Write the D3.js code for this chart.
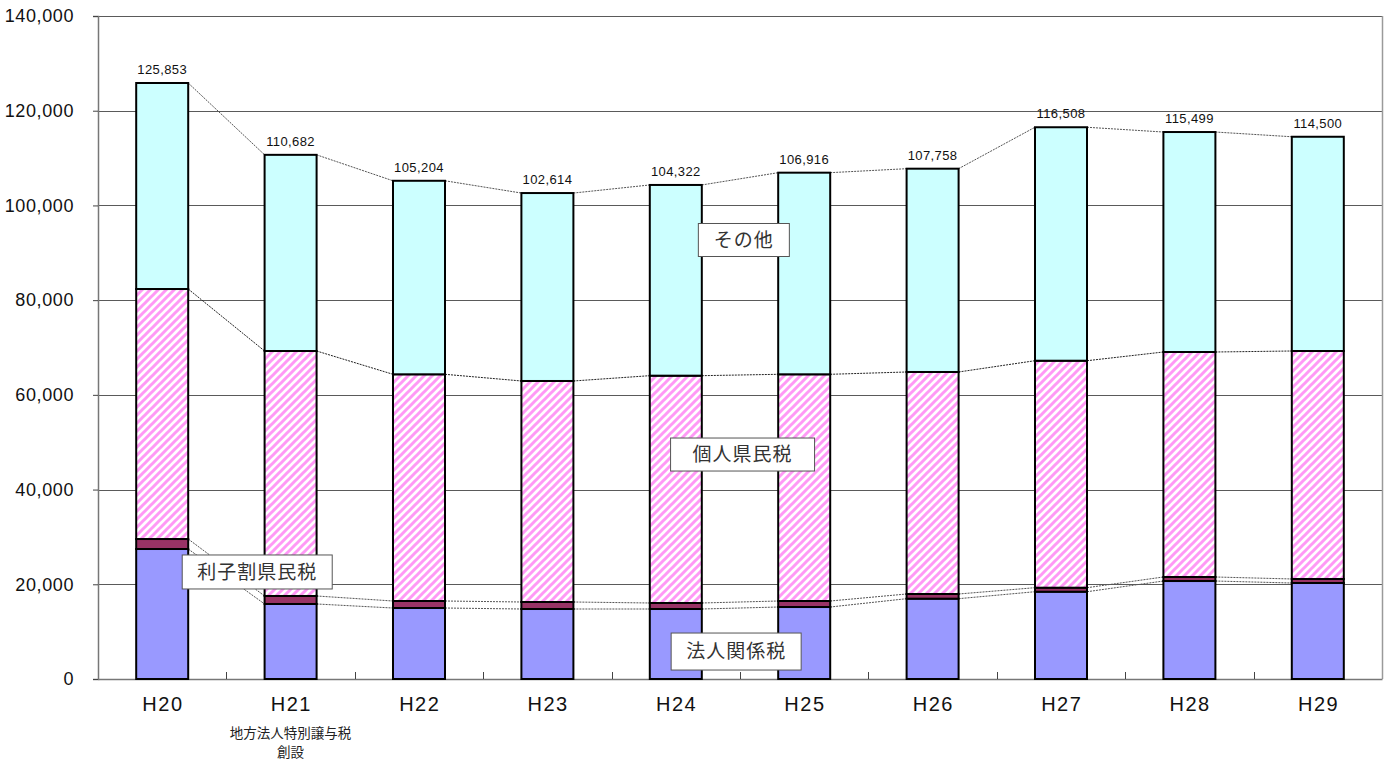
<!DOCTYPE html>
<html>
<head>
<meta charset="utf-8">
<script src="https://cdn.jsdelivr.net/npm/d3@7"></script>
<style>
  html, body { margin: 0; padding: 0; background: #fff; }
  svg { display: block; }
  text { font-family: "Liberation Sans", Arial, "Noto Sans CJK JP", sans-serif; }
  .jp { font-family: "Noto Sans CJK JP", sans-serif; }
</style>
</head>
<body>
<svg id="chart" width="1389" height="763"></svg>
<script>
// 年度
const years = ["H20", "H21", "H22", "H23", "H24", "H25", "H26", "H27", "H28", "H29"];
// 税目別の額（下から積み上げ）
const houjin   = [27450, 15840, 14990, 14780, 14780, 15200, 16960, 18430, 20690, 20270]; // 法人関係税
const rishiwari = [2110, 1690, 1480, 1480, 1270, 1270, 990, 850, 850, 850];              // 利子割県民税
const kojin    = [52790, 51730, 47870, 46670, 48000, 47870, 46880, 47930, 47510, 48140]; // 個人県民税
const sonota   = [43503, 41422, 40864, 39684, 40272, 42576, 42928, 49298, 46449, 45240]; // その他
const yTicks = [0, 20000, 40000, 60000, 80000, 100000, 120000, 140000];

const seriesKeys = ["houjin", "rishiwari", "kojin", "sonota"];
const seriesName = { houjin: "法人関係税", rishiwari: "利子割県民税", kojin: "個人県民税", sonota: "その他" };
const rows = years.map((yr, i) => ({
  year: yr, houjin: houjin[i], rishiwari: rishiwari[i], kojin: kojin[i], sonota: sonota[i]
}));

const svg = d3.select("#chart");
const plotL = 98, plotR = 1382, plotT = 16, plotB = 679;

const x = d3.scaleBand().domain(years).range([plotL, plotR]).paddingInner(0.595).paddingOuter(0.2975);
const xb = d3.scaleBand().domain(years).range([plotL, plotR]);
const y = d3.scaleLinear().domain([0, 140000]).range([plotB, plotT]);

// 斜線パターン（個人県民税）
const defs = svg.append("defs");
const pat = defs.append("pattern")
  .attr("id", "stripe").attr("patternUnits", "userSpaceOnUse")
  .attr("width", 8).attr("height", 8);
pat.append("rect").attr("width", 8).attr("height", 8).attr("fill", "#fff");
pat.append("path")
  .attr("d", "M-2,2 L2,-2 M0,8 L8,0 M6,10 L10,6")
  .attr("stroke", "#ff99f6").attr("stroke-width", 3);

const fills = { houjin: "#9999ff", rishiwari: "#993366", kojin: "url(#stripe)", sonota: "#ccffff" };

// 目盛線
svg.append("g").selectAll("line").data(yTicks.filter(t => t > 0)).join("line")
  .attr("x1", plotL).attr("x2", plotR)
  .attr("y1", d => Math.round(y(d)) + 0.5).attr("y2", d => Math.round(y(d)) + 0.5)
  .attr("stroke", "#5a5a5a").attr("stroke-width", 1);
// 右枠
svg.append("line").attr("x1", plotR + 0.5).attr("x2", plotR + 0.5).attr("y1", plotT).attr("y2", plotB)
  .attr("stroke", "#9a9a9a").attr("stroke-width", 1.5);

// Y軸
const yAxis = d3.axisLeft(y).tickValues(yTicks).tickSize(5).tickPadding(19)
  .tickFormat(d3.format(","));
const gy = svg.append("g").attr("transform", `translate(${plotL},0)`).call(yAxis);
gy.select(".domain").attr("stroke", "#777").attr("stroke-width", 1.5);
gy.selectAll(".tick line").attr("stroke", "#444");
gy.selectAll(".tick text").attr("font-size", 18).attr("letter-spacing", 0.6).attr("fill", "#111");

// X軸
const xAxis = d3.axisBottom(xb).tickSize(0).tickPadding(18);
const gx = svg.append("g").attr("transform", `translate(0,${plotB})`).call(xAxis);
gx.select(".domain").attr("stroke", "#777").attr("stroke-width", 1.5);
gx.selectAll(".tick text").attr("font-size", 20).attr("letter-spacing", 1.5).attr("dx", 0.75).attr("fill", "#111");
// 区切り目盛（内向き）
svg.append("g").selectAll("line").data(years.slice(1)).join("line")
  .attr("x1", d => Math.round(xb(d)) + 0.5).attr("x2", d => Math.round(xb(d)) + 0.5)
  .attr("y1", plotB - 7).attr("y2", plotB)
  .attr("stroke", "#444");

// 注記
const noteX = xb("H21") + xb.bandwidth() / 2;
svg.append("text").attr("class", "jp").attr("x", noteX).attr("y", plotB + 59)
  .attr("text-anchor", "middle").attr("font-size", 13.5).attr("fill", "#222").text("地方法人特別譲与税");
svg.append("text").attr("class", "jp").attr("x", noteX).attr("y", plotB + 78)
  .attr("text-anchor", "middle").attr("font-size", 13.5).attr("fill", "#222").text("創設");

// 積み上げ
const stack = d3.stack().keys(seriesKeys)(rows);

// 区分線（隣接する棒の各系列上端を結ぶ）
const seriesLines = svg.append("g");
stack.forEach(layer => {
  for (let i = 0; i < layer.length - 1; i++) {
    seriesLines.append("line")
      .attr("x1", x(years[i]) + x.bandwidth()).attr("y1", y(layer[i][1]))
      .attr("x2", x(years[i + 1])).attr("y2", y(layer[i + 1][1]))
      .attr("stroke", layer.key === "kojin" ? "#222" : "#555")
      .attr("stroke-width", 1)
      .attr("stroke-dasharray", "2,1");
  }
});

// 棒
const gBars = svg.append("g");
stack.forEach(layer => {
  gBars.append("g").selectAll("rect").data(layer).join("rect")
    .attr("x", d => x(d.data.year))
    .attr("width", x.bandwidth())
    .attr("y", d => y(d[1]))
    .attr("height", d => y(d[0]) - y(d[1]))
    .attr("fill", fills[layer.key])
    .attr("stroke", "#000").attr("stroke-width", 2);
});

// 合計値
svg.append("g").selectAll("text").data(rows).join("text")
  .attr("x", d => x(d.year) + x.bandwidth() / 2)
  .attr("y", d => y(d3.sum(seriesKeys, k => d[k])) - 9)
  .attr("text-anchor", "middle").attr("font-size", 13).attr("letter-spacing", 0.4).attr("fill", "#111")
  .text(d => d3.format(",")(d3.sum(seriesKeys, k => d[k])));

// 系列名ラベル
const labels = [
  { key: "sonota",    from: "H24", to: "H25", t: 0.53, value: 92700, w: 91,  h: 33 },
  { key: "kojin",     from: "H24", to: "H25", t: 0.52, value: 47400, w: 144, h: 33 },
  { key: "rishiwari", from: "H20", to: "H21", t: 0.74, value: 22600, w: 150, h: 34 },
  { key: "houjin",    from: "H24", to: "H25", t: 0.47, value: 5800,  w: 130, h: 37 }
];
const gl = svg.append("g");
labels.forEach(l => {
  const cx = x(l.from) + x.bandwidth() / 2 + (x(l.to) - x(l.from)) * l.t;
  const cy = y(l.value);
  gl.append("rect")
    .attr("x", cx - l.w / 2).attr("y", cy - l.h / 2)
    .attr("width", l.w).attr("height", l.h)
    .attr("fill", "#fff").attr("stroke", "#555").attr("stroke-width", 1);
  gl.append("text").attr("class", "jp")
    .attr("x", cx).attr("y", cy).attr("dy", "0.36em")
    .attr("text-anchor", "middle").attr("font-size", 19).attr("fill", "#333")
    .attr("letter-spacing", 1)
    .text(seriesName[l.key]);
});
</script>
</body>
</html>
